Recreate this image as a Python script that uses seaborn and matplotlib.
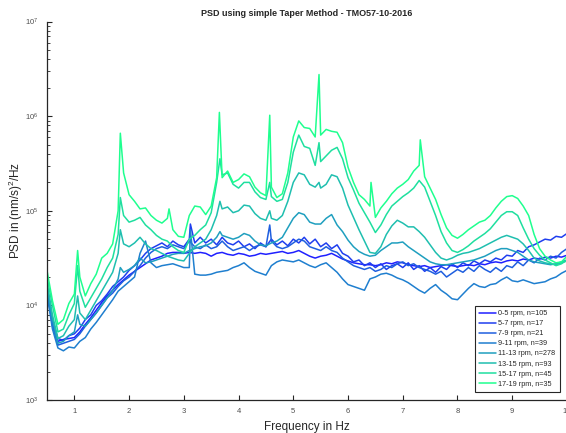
import numpy as np
import pandas as pd
import matplotlib
matplotlib.use("Agg")
import matplotlib.pyplot as plt
import seaborn as sns

# frequency grid (Hz) the curves were read on
freq = np.round(np.arange(0.5, 10.01, 0.1), 1)

labels = ["0-5 rpm, n=105", "5-7 rpm, n=17", "7-9 rpm, n=21", "9-11 rpm, n=39",
          "11-13 rpm, n=278", "13-15 rpm, n=93", "15-17 rpm, n=45", "17-19 rpm, n=35"]

# PSD values, as log10 of (nm/s)^2/Hz, one per freq
psd_0_5 = [4.15, 3.80, 3.62, 3.64, 3.65, 3.66, 3.72, 3.80, 3.87, 3.95,
           4.03, 4.10, 4.16, 4.22, 4.27, 4.32, 4.36, 4.40, 4.44, 4.48,
           4.50, 4.52, 4.55, 4.56, 4.56, 4.55, 4.56, 4.55, 4.56, 4.55,
           4.52, 4.55, 4.56, 4.54, 4.53, 4.55, 4.54, 4.52, 4.53, 4.55,
           4.54, 4.55, 4.56, 4.57, 4.55, 4.56, 4.58, 4.55, 4.52, 4.50,
           4.52, 4.53, 4.55, 4.52, 4.49, 4.47, 4.45, 4.44, 4.43, 4.43,
           4.42, 4.43, 4.45, 4.44, 4.46, 4.45, 4.43, 4.42, 4.41, 4.42,
           4.40, 4.41, 4.42, 4.43, 4.42, 4.41, 4.42, 4.43, 4.42, 4.44,
           4.43, 4.45, 4.46, 4.45, 4.47, 4.48, 4.47, 4.49, 4.48, 4.50,
           4.49, 4.51, 4.50, 4.52, 4.51, 4.53]
psd_5_7 = [4.20, 3.85, 3.65, 3.63, 3.68, 3.70, 3.76, 3.85, 3.90, 4.00,
           4.05, 4.12, 4.20, 4.25, 4.30, 4.37, 4.42, 4.48, 4.55, 4.60,
           4.63, 4.66, 4.62, 4.68, 4.64, 4.62, 4.70, 4.66, 4.72, 4.66,
           4.70, 4.64, 4.72, 4.66, 4.64, 4.68, 4.62, 4.65, 4.60, 4.66,
           4.62, 4.70, 4.64, 4.68, 4.63, 4.70, 4.66, 4.72, 4.65, 4.70,
           4.62, 4.66, 4.60, 4.64, 4.55, 4.52, 4.46, 4.48, 4.42, 4.45,
           4.40, 4.44, 4.38, 4.42, 4.44, 4.40, 4.45, 4.38, 4.42, 4.36,
           4.40, 4.35, 4.41, 4.38, 4.44, 4.40, 4.45, 4.42, 4.47, 4.44,
           4.48, 4.46, 4.50, 4.48, 4.53, 4.52, 4.58, 4.56, 4.62, 4.64,
           4.67, 4.70, 4.69, 4.73, 4.72, 4.76]
psd_7_9 = [4.18, 3.78, 3.58, 3.60, 3.62, 3.64, 3.70, 3.78, 3.85, 3.92,
           4.00, 4.08, 4.13, 4.20, 4.26, 4.30, 4.36, 4.42, 4.50, 4.56,
           4.60, 4.62, 4.60, 4.64, 4.62, 4.60, 4.68, 4.62, 4.60, 4.64,
           4.60, 4.62, 4.68, 4.62, 4.58, 4.60, 4.62, 4.58, 4.62, 4.64,
           4.62, 4.68, 4.62, 4.60, 4.62, 4.66, 4.70, 4.68, 4.62, 4.60,
           4.58, 4.62, 4.58, 4.56, 4.50, 4.46, 4.42, 4.40, 4.38, 4.40,
           4.36, 4.38, 4.42, 4.40, 4.44, 4.46, 4.42, 4.44, 4.40, 4.38,
           4.36, 4.33, 4.36, 4.30, 4.34, 4.38, 4.35, 4.40, 4.36, 4.42,
           4.38, 4.35, 4.40, 4.36, 4.42, 4.40, 4.46, 4.42, 4.48, 4.45,
           4.50, 4.48, 4.52, 4.50, 4.56, 4.60]
psd_9_11 = [4.12, 3.75, 3.55, 3.52, 3.56, 3.55, 3.62, 3.66, 3.75, 3.82,
            3.90, 3.98, 4.06, 4.15, 4.20, 4.25, 4.30, 4.55, 4.68, 4.45,
            4.40, 4.42, 4.43, 4.44, 4.42, 4.40, 4.40, 4.33, 4.32, 4.32,
            4.33, 4.35, 4.36, 4.37, 4.40, 4.42, 4.45, 4.40, 4.36, 4.34,
            4.32, 4.42, 4.46, 4.48, 4.47, 4.46, 4.48, 4.45, 4.42, 4.40,
            4.43, 4.45, 4.40, 4.35, 4.28, 4.22, 4.20, 4.18, 4.16, 4.28,
            4.30, 4.33, 4.34, 4.32, 4.29, 4.27, 4.24, 4.20, 4.16, 4.13,
            4.18, 4.22, 4.16, 4.12, 4.07, 4.06, 4.12, 4.18, 4.23, 4.20,
            4.19, 4.22, 4.23, 4.27, 4.30, 4.26, 4.25, 4.27, 4.25, 4.23,
            4.24, 4.25, 4.28, 4.30, 4.34, 4.37]
psd_11_13 = [4.20, 3.85, 3.60, 3.62, 3.68, 3.72, 3.80, 3.78, 3.85, 3.92,
             4.00, 4.08, 4.16, 4.28, 4.35, 4.38, 4.42, 4.50, 4.45, 4.46,
             4.48, 4.50, 4.52, 4.54, 4.55, 4.55, 4.58, 4.60, 4.62, 4.63,
             4.66, 4.72, 4.74, 4.72, 4.70, 4.72, 4.76, 4.74, 4.68, 4.64,
             4.63, 4.66, 4.68, 4.72, 4.82, 4.92, 4.98, 4.96, 4.88, 4.86,
             4.86, 4.92, 4.96, 4.85, 4.78, 4.69, 4.62, 4.57, 4.54, 4.52,
             4.53, 4.58, 4.62, 4.66, 4.66, 4.67, 4.62, 4.58, 4.54, 4.50,
             4.46, 4.44, 4.43, 4.43, 4.44, 4.45, 4.46, 4.47, 4.48, 4.50,
             4.52, 4.55, 4.58, 4.60, 4.60, 4.58, 4.56, 4.52, 4.48, 4.46,
             4.45, 4.44, 4.43, 4.44, 4.46, 4.48]
psd_13_15 = [4.25, 3.90, 3.65, 3.68, 3.78, 3.85, 3.92, 3.85, 3.95, 4.05,
             4.15, 4.25, 4.35, 4.55, 4.65, 4.62, 4.66, 4.72, 4.65, 4.60,
             4.58, 4.55, 4.52, 4.50, 4.48, 4.47, 4.55, 4.62, 4.66, 4.70,
             4.80, 4.95, 5.02, 5.04, 4.98, 5.00, 5.06, 5.05, 4.97, 4.92,
             4.90, 4.92, 4.90, 4.95, 5.10, 5.30, 5.40, 5.38, 5.28, 5.25,
             5.24, 5.28, 5.38, 5.36, 5.24, 5.06, 4.93, 4.80, 4.68, 4.56,
             4.55, 4.62, 4.75, 4.84, 4.90, 4.87, 4.83, 4.83, 4.78, 4.72,
             4.64, 4.56, 4.50, 4.48, 4.50, 4.53, 4.55, 4.56, 4.58, 4.60,
             4.63, 4.66, 4.69, 4.72, 4.74, 4.72, 4.70, 4.65, 4.58, 4.50,
             4.47, 4.45, 4.44, 4.43, 4.45, 4.47]
psd_15_17 = [4.30, 4.00, 3.72, 3.75, 3.90, 4.02, 4.15, 3.98, 4.08, 4.18,
             4.28, 4.40, 4.50, 4.75, 4.95, 4.88, 4.90, 4.93, 4.85, 4.80,
             4.74, 4.70, 4.68, 4.62, 4.58, 4.56, 4.70, 4.74, 4.80, 4.85,
             4.98, 5.30, 5.38, 5.40, 5.28, 5.24, 5.30, 5.30, 5.20, 5.14,
             5.12, 5.15, 5.10, 5.12, 5.30, 5.62, 5.80, 5.68, 5.66, 5.48,
             5.52, 5.58, 5.64, 5.67, 5.55, 5.35, 5.22, 5.08, 4.98, 4.88,
             4.77, 4.85, 4.96, 5.05, 5.10, 5.15, 5.19, 5.24, 5.32, 5.25,
             5.10, 4.95, 4.78, 4.66, 4.58, 4.56, 4.59, 4.63, 4.68, 4.72,
             4.76, 4.81, 4.88, 4.95, 4.99, 4.99, 4.95, 4.82, 4.70, 4.60,
             4.53, 4.48, 4.45, 4.42, 4.44, 4.48]
psd_17_19 = [4.37, 4.05, 3.80, 3.85, 4.02, 4.12, 4.30, 4.10, 4.23, 4.33,
             4.50, 4.55, 4.65, 5.00, 5.40, 5.17, 5.10, 5.02, 5.03, 4.95,
             4.90, 4.87, 4.92, 4.80, 4.73, 4.72, 4.95, 5.05, 5.04, 4.96,
             5.05, 5.35, 5.35, 5.42, 5.30, 5.33, 5.39, 5.36, 5.25, 5.19,
             5.16, 5.25, 5.14, 5.18, 5.40, 5.78, 5.95, 5.88, 5.87, 5.78,
             5.80, 5.86, 5.84, 5.83, 5.72, 5.46, 5.30, 5.17, 5.12, 5.05,
             4.93, 5.03, 5.10, 5.18, 5.24, 5.28, 5.33, 5.42, 5.48, 5.36,
             5.24, 5.12, 4.96, 4.82, 4.74, 4.71, 4.75, 4.80, 4.84, 4.88,
             4.90, 4.95, 5.03, 5.10, 5.15, 5.16, 5.13, 5.05, 4.95, 4.75,
             4.60, 4.52, 4.48, 4.45, 4.46, 4.52]

# narrow spikes that fall between grid points (freq Hz, log10 psd)
peak_f_5_7, peak_v_5_7 = [3.12], [4.86]
peak_f_7_9, peak_v_7_9 = [4.57], [4.85]
peak_f_9_11, peak_v_9_11 = [3.12], [4.80]
peak_f_11_13, peak_v_11_13 = [1.06, 1.84, 3.66], [3.90, 4.40, 4.78]
peak_f_13_15, peak_v_13_15 = [1.06, 1.84, 3.66, 4.57, 5.47], [4.10, 4.80, 5.10, 5.00, 5.30]
peak_f_15_17, peak_v_15_17 = [1.06, 1.84, 3.66, 4.57, 5.47], [4.42, 5.14, 5.55, 5.30, 5.72]
peak_f_17_19 = [1.06, 1.84, 2.73, 3.65, 4.57, 5.47, 6.42, 7.32]
peak_v_17_19 = [4.58, 5.82, 5.02, 6.04, 6.01, 6.44, 5.30, 5.75]

series = [
    (psd_0_5, [], []),
    (psd_5_7, peak_f_5_7, peak_v_5_7),
    (psd_7_9, peak_f_7_9, peak_v_7_9),
    (psd_9_11, peak_f_9_11, peak_v_9_11),
    (psd_11_13, peak_f_11_13, peak_v_11_13),
    (psd_13_15, peak_f_13_15, peak_v_13_15),
    (psd_15_17, peak_f_15_17, peak_v_15_17),
    (psd_17_19, peak_f_17_19, peak_v_17_19),
]

frames = []
for label, (vals, pf, pv) in zip(labels, series):
    f = np.concatenate([freq, pf])
    v = np.concatenate([vals, pv])
    frames.append(pd.DataFrame({"freq": f, "psd": 10 ** v, "group": label}))
df = pd.concat(frames, ignore_index=True)

# MATLAB "winter" colours, blue -> green, softened a little like the original
winter = plt.get_cmap("winter")
colors = [tuple(0.88 * np.array(winter(i / 7)[:3]) + 0.12) for i in range(8)]

sns.set_style("ticks")
plt.rcParams["font.family"] = ["Liberation Sans", "DejaVu Sans"]
plt.rcParams["mathtext.fontset"] = "custom"
plt.rcParams["mathtext.rm"] = "Liberation Sans"
plt.rcParams["mathtext.it"] = "Liberation Sans:italic"

fig = plt.figure(figsize=(5.66, 4.33), dpi=100)
ax = fig.add_axes([0.083, 0.0762, 0.9187, 0.874])

sns.lineplot(data=df, x="freq", y="psd", hue="group", hue_order=labels,
             palette=colors, estimator=None, sort=True, linewidth=1.1, ax=ax)

ax.set_yscale("log")
ax.set_xlim(0.5, 10)
ax.set_ylim(1e3, 1e7)
ax.set_xticks(range(1, 11))
ax.set_xticklabels([str(i) for i in range(1, 11)])

sns.despine(ax=ax)
for side in ["left", "bottom"]:
    ax.spines[side].set_color("#262626")
    ax.spines[side].set_linewidth(0.9)
ax.tick_params(axis="both", which="major", direction="in", length=3.5, width=0.8,
               labelsize=5.5, labelcolor="#4d4d4d", color="#262626", pad=6)
ax.tick_params(axis="y", which="minor", direction="in", length=2, width=0.6,
               color="#262626")

ax.set_xlabel("Frequency in Hz", fontsize=8.5, color="#262626", labelpad=4)
ax.set_ylabel("PSD in (nm/s)$^2$/Hz", fontsize=8.5, color="#262626")
ax.yaxis.set_label_coords(-0.043, 0.5)
ax.set_title("PSD using simple Taper Method - TMO57-10-2016", fontsize=6.5,
             fontweight="bold", color="#262626", pad=4)

handles, _ = ax.get_legend_handles_labels()
leg = ax.legend(handles, labels, loc="lower right", bbox_to_anchor=(0.9865, 0.021),
                fontsize=5.2, frameon=True, fancybox=False, edgecolor="#262626",
                framealpha=1, borderpad=0.6, labelspacing=0.42, handlelength=2.3,
                handletextpad=0.4, borderaxespad=0)
leg.get_frame().set_linewidth(0.8)

fig.savefig("out.png", dpi=100)
